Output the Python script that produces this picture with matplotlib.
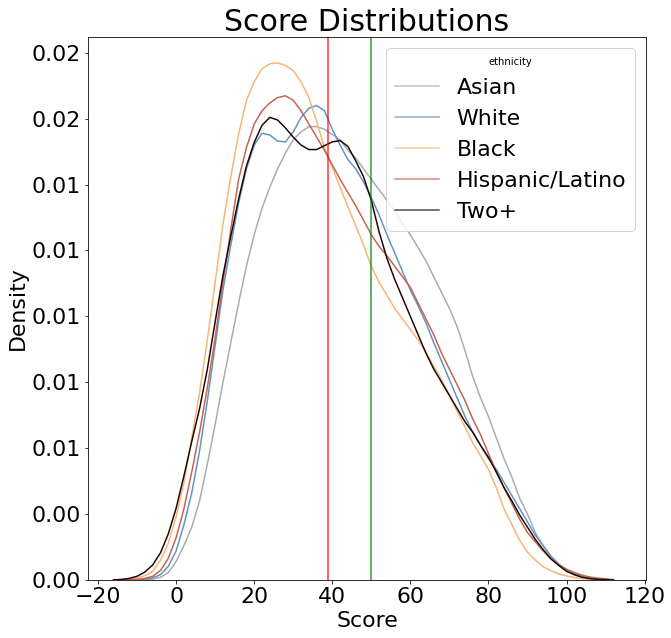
import numpy as np
from matplotlib import pyplot as plt
from matplotlib.ticker import FixedLocator, MultipleLocator, FormatStrFormatter

# score grid (x) and density for each group
score = [-16, -14, -12, -10, -8, -6, -4, -2, 0, 2,
         4, 6, 8, 10, 12, 14, 16, 18, 20, 22,
         24, 26, 28, 30, 32, 34, 36, 38, 40, 42,
         44, 46, 48, 50, 52, 54, 56, 58, 60, 62,
         64, 66, 68, 70, 72, 74, 76, 78, 80, 82,
         84, 86, 88, 90, 92, 94, 96, 98, 100, 102,
         104, 106, 108, 110, 112]

asian = [0.0, 0.0, 0.0, 0.0, 0.00001, 0.00003, 0.0001, 0.00028, 0.0007, 0.0013,
         0.0020, 0.0030, 0.0044, 0.0059, 0.0075, 0.0090, 0.0105, 0.0119, 0.0131, 0.0141,
         0.0149, 0.0156, 0.0162, 0.0167, 0.0170, 0.0172, 0.0172, 0.0171, 0.0169, 0.0167,
         0.0163, 0.0160, 0.0156, 0.0152, 0.0148, 0.0144, 0.0140, 0.0135, 0.0131, 0.0126,
         0.0121, 0.0115, 0.0109, 0.0103, 0.0096, 0.0087, 0.0077, 0.0069, 0.0062, 0.0054,
         0.0046, 0.0039, 0.0031, 0.0025, 0.0018, 0.0013, 0.0009, 0.0006, 0.00033, 0.0002,
         0.0001, 0.00005, 0.00002, 0.0, 0.0]

white = [0.0, 0.0, 0.0, 0.00001, 0.00003, 0.00008, 0.0002, 0.00052, 0.0011, 0.0021,
         0.0033, 0.0049, 0.0068, 0.0089, 0.0110, 0.0127, 0.0143, 0.0156, 0.0165, 0.01695,
         0.01688, 0.01665, 0.01662, 0.0170, 0.01755, 0.0179, 0.0180, 0.0178, 0.0171, 0.0165,
         0.01595, 0.0156, 0.0151, 0.0145, 0.01385, 0.0131, 0.0124, 0.0117, 0.0110, 0.0104,
         0.00975, 0.0090, 0.0083, 0.0076, 0.0069, 0.0062, 0.0056, 0.0051, 0.0046, 0.0042,
         0.0037, 0.0032, 0.0027, 0.0022, 0.0017, 0.0013, 0.0009, 0.0006, 0.0004, 0.00025,
         0.00015, 0.00008, 0.00004, 0.00002, 0.0]

black = [0.0, 0.00001, 0.00003, 0.00008, 0.00016, 0.00033, 0.00075, 0.0014, 0.0024, 0.0037,
         0.0054, 0.0071, 0.0091, 0.0113, 0.0135, 0.0153, 0.0169, 0.0182, 0.0189, 0.0194,
         0.01958, 0.01962, 0.01952, 0.01932, 0.0189, 0.0183, 0.0174, 0.0164, 0.01565, 0.0149,
         0.01415, 0.01345, 0.0127, 0.0119, 0.0113, 0.0108, 0.0103, 0.0099, 0.0095, 0.0091,
         0.00865, 0.0081, 0.0076, 0.0070, 0.0064, 0.0058, 0.0052, 0.0047, 0.0042, 0.0035,
         0.0027, 0.0021, 0.0015, 0.00105, 0.00075, 0.0005, 0.00035, 0.00023, 0.00015, 0.00009,
         0.00005, 0.00002, 0.00001, 0.0, 0.0]

hispanic = [0.0, 0.0, 0.00001, 0.00002, 0.00006, 0.00014, 0.00036, 0.00082, 0.0016, 0.0027,
            0.0041, 0.0056, 0.0073, 0.0092, 0.0113, 0.0133, 0.0152, 0.0164, 0.0173, 0.0178,
            0.0181, 0.0183, 0.01837, 0.0182, 0.0178, 0.0173, 0.0168, 0.0163, 0.01575, 0.0152,
            0.0147, 0.0142, 0.01365, 0.0131, 0.01265, 0.0123, 0.0119, 0.0115, 0.0111, 0.0105,
            0.0099, 0.0093, 0.0086, 0.0080, 0.0074, 0.0068, 0.0061, 0.0055, 0.0048, 0.0041,
            0.0035, 0.0029, 0.0023, 0.0018, 0.00145, 0.0011, 0.0008, 0.00058, 0.0004, 0.00028,
            0.00018, 0.00011, 0.00007, 0.00004, 0.00001]

two_plus = [0.0, 0.00002, 0.00006, 0.00014, 0.0003, 0.00057, 0.00103, 0.00175, 0.00272, 0.00395,
            0.00525, 0.0065, 0.0080, 0.0098, 0.01156, 0.01303, 0.01445, 0.0157, 0.0166, 0.01725,
            0.01755, 0.01745, 0.01715, 0.0168, 0.0165, 0.01633, 0.01633, 0.01648, 0.01662, 0.01667,
            0.01645, 0.0159, 0.0153, 0.0144, 0.0132, 0.0122, 0.0114, 0.0107, 0.0100, 0.0093,
            0.0086, 0.0080, 0.0075, 0.0070, 0.0065, 0.0060, 0.0056, 0.0051, 0.00465, 0.0041,
            0.0035, 0.0030, 0.00246, 0.0020, 0.00154, 0.00115, 0.0008, 0.00055, 0.00033, 0.0002,
            0.0001, 0.00005, 0.00002, 0.00001, 0.0]

groups = ["Asian", "White", "Black", "Hispanic/Latino", "Two+"]
colors = ["#a4acb6", "#6393c0", "#f8b575", "#c56350", "#200505"]
y_ticks = [0.0, 0.0025, 0.005, 0.0075, 0.01, 0.0125, 0.015, 0.0175, 0.02]
red_line = 38.8
green_line = 49.8

plt.rcParams['font.size'] = 22
fig, ax = plt.subplots(figsize=(671 / 72, 638 / 72), dpi=72)
fig.subplots_adjust(left=0.131, right=0.963, bottom=0.091, top=0.942)

for name, dens, col in zip(groups, [asian, white, black, hispanic, two_plus], colors):
    ax.plot(score, dens, color=col, lw=1.5, label=name)

ax.axvline(red_line, color="red", alpha=0.8, lw=1.5)
ax.axvline(green_line, color="green", alpha=0.8, lw=1.5)

ax.set_xlim(-22.6, 120.4)
ax.set_ylim(0, 0.0206)
ax.yaxis.set_major_locator(FixedLocator(y_ticks))
ax.yaxis.set_major_formatter(FormatStrFormatter('%.2f'))
ax.xaxis.set_major_locator(MultipleLocator(20))

ax.set_title("Score Distributions", fontsize=30)
ax.set_xlabel("Score")
ax.set_ylabel("Density")

leg = ax.legend(title="ethnicity", loc="upper right", title_fontsize=10)
for h in leg.legend_handles:
    h.set_alpha(0.75)

fig.savefig("out.png", dpi=72)
